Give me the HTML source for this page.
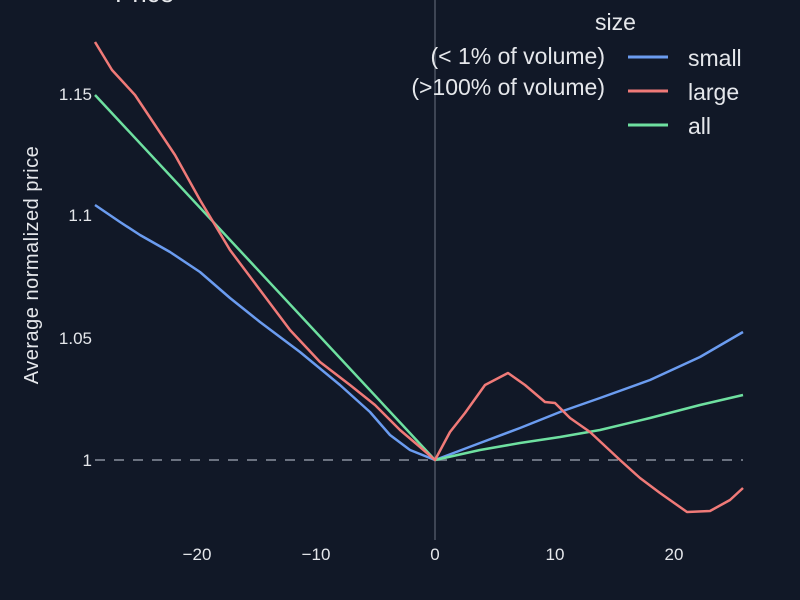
<!DOCTYPE html>
<html><head><style>
body{margin:0;background:#111827;}
svg{display:block;font-family:"Liberation Sans",sans-serif;}
</style></head><body>
<svg width="800" height="600" viewBox="0 0 800 600">
<rect width="800" height="600" fill="#111827"/>
<text x="115" y="2" fill="#e5e7eb" font-size="26">Price</text>
<line x1="435" y1="0" x2="435" y2="540" stroke="#6b7280" stroke-width="1"/>
<line x1="95" y1="460" x2="743" y2="460" stroke="#6b7280" stroke-width="2" stroke-dasharray="10,9"/>
<g fill="#e5e7eb" font-size="17">
<text x="92" y="100" text-anchor="end">1.15</text>
<text x="92" y="221" text-anchor="end">1.1</text>
<text x="92" y="344" text-anchor="end">1.05</text>
<text x="92" y="466" text-anchor="end">1</text>
<text x="197" y="560" text-anchor="middle">−20</text>
<text x="316" y="560" text-anchor="middle">−10</text>
<text x="435" y="560" text-anchor="middle">0</text>
<text x="555" y="560" text-anchor="middle">10</text>
<text x="674" y="560" text-anchor="middle">20</text>
<text transform="translate(38,265) rotate(-90)" text-anchor="middle" font-size="20" letter-spacing="0.5">Average normalized price</text>
</g>
<g fill="none" stroke-width="2.5" stroke-linejoin="round">
<polyline stroke="#6b9cf0" points="95,205 120,222 140,235 170,252 200,272 230,298 260,322 300,352 340,385 370,412 390,435 410,450 435,460 480,443 520,428 560,412 600,398 650,380 700,357 743,332"/>
<polyline stroke="#6ee0a0" points="95,95 435,460 480,450 520,443 560,437 600,430 650,418 700,405 743,395"/>
<polyline stroke="#f07a78" points="95,42 112,70 135,95 155,125 175,155 200,200 230,250 260,290 290,330 320,362 350,385 375,405 400,430 420,447 435,460 450,432 465,413 485,385 508,373 525,385 545,402 555,403 570,418 590,432 620,460 640,478 660,493 687,512 710,511 730,500 743,488"/>
</g>
<g fill="#e5e7eb" font-size="23">
<text x="595" y="30">size</text>
<text x="605" y="64" text-anchor="end">(&lt; 1% of volume)</text>
<text x="605" y="95" text-anchor="end">(&gt;100% of volume)</text>
<text x="688" y="66">small</text>
<text x="688" y="100">large</text>
<text x="688" y="134">all</text>
</g>
<line x1="628" y1="57" x2="668" y2="57" stroke="#6b9cf0" stroke-width="3"/>
<line x1="628" y1="91" x2="668" y2="91" stroke="#f07a78" stroke-width="3"/>
<line x1="628" y1="125" x2="668" y2="125" stroke="#6ee0a0" stroke-width="3"/>
</svg>
</body></html>
